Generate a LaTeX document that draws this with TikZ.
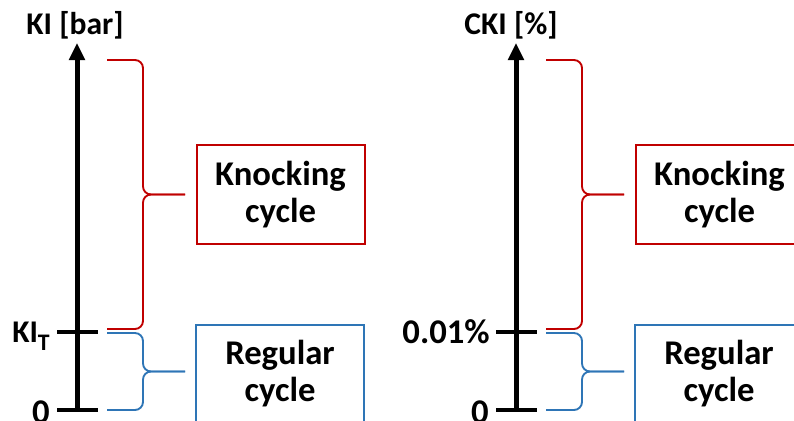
\documentclass[tikz,border=0pt]{standalone}
\usepackage{fontspec}
\setmainfont{Carlito}
\usetikzlibrary{arrows.meta}
\definecolor{knockred}{HTML}{C00000}
\definecolor{regblue}{HTML}{2E75B6}

\begin{document}
\begin{tikzpicture}[x=0.75pt, y=-0.75pt,
  axisline/.style={line width=3.75pt, -{Triangle[length=12.75pt, width=11.5pt]}},
  tickline/.style={line width=3.4pt},
  bracket/.style={line width=1.4pt, rounded corners=6pt},
  cyclebox/.style={draw, line width=1.5pt, minimum width=126pt, minimum height=74.25pt,
    align=center, inner sep=0pt, font=\fontsize{26}{27.75}\selectfont\bfseries},
  axislabel/.style={anchor=base, inner sep=0pt, font=\fontsize{23.7}{26}\selectfont\bfseries},
  ticklabel/.style={anchor=base east, inner sep=0pt, font=\fontsize{26}{28}\selectfont\bfseries}]

\useasboundingbox (0,0) rectangle (794,421);

% ----------------------------------------------------
% 1. KI axis
% ----------------------------------------------------
\begin{scope}
  \node[axislabel] (kiLabel) at (75,35) {KI [bar]};

  \coordinate (kiZero) at (77,410);
  \coordinate (kiTip) at (77,43);
  \draw[axisline] (kiZero) -- (kiTip);

  \draw[tickline] (57,332) -- (98,332);
  \draw[tickline] (57,410) -- (98,410);
  \node[ticklabel, font=\fontsize{23.7}{26}\selectfont\bfseries] (kiThres) at (50,342)
    {KI\raisebox{-6pt}{\fontsize{17.8}{18}\selectfont T}};
  \node[ticklabel] (kiNull) at (50,423) {0};

  % brace knocking
  \draw[bracket, knockred] (107,60) -- (143,60) -- (143,194.5) -- (185,194.5);
  \draw[bracket, knockred] (107,329) -- (143,329) -- (143,194.5) -- (185,194.5);
  % brace regular
  \draw[bracket, regblue] (107,333) -- (143,333) -- (143,371.5) -- (185,371.5);
  \draw[bracket, regblue] (107,410) -- (143,410) -- (143,371.5) -- (185,371.5);

  \node[cyclebox, draw=knockred] (kiKnock) at (280.5,194.5) {Knocking\\cycle};
  \node[cyclebox, draw=regblue] (kiRegular) at (280,374) {Regular\\cycle};
\end{scope}

% ----------------------------------------------------
% 2. CKI axis
% ----------------------------------------------------
\begin{scope}[shift={(439,0)}]
  \node[axislabel] (ckiLabel) at (72,35) {CKI [\%]};

  \coordinate (ckiZero) at (77,410);
  \coordinate (ckiTip) at (77,43);
  \draw[axisline] (ckiZero) -- (ckiTip);

  \draw[tickline] (57,332) -- (98,332);
  \draw[tickline] (57,410) -- (98,410);
  \node[ticklabel] (ckiThres) at (51,343) {0.01\%};
  \node[ticklabel] (ckiNull) at (50,423) {0};

  % brace knocking
  \draw[bracket, knockred] (107,60) -- (143,60) -- (143,194.5) -- (185,194.5);
  \draw[bracket, knockred] (107,329) -- (143,329) -- (143,194.5) -- (185,194.5);
  % brace regular
  \draw[bracket, regblue] (107,333) -- (143,333) -- (143,371.5) -- (185,371.5);
  \draw[bracket, regblue] (107,410) -- (143,410) -- (143,371.5) -- (185,371.5);

  \node[cyclebox, draw=knockred] (ckiKnock) at (280.5,194.5) {Knocking\\cycle};
  \node[cyclebox, draw=regblue] (ckiRegular) at (280,374) {Regular\\cycle};
\end{scope}

\end{tikzpicture}
\end{document}
